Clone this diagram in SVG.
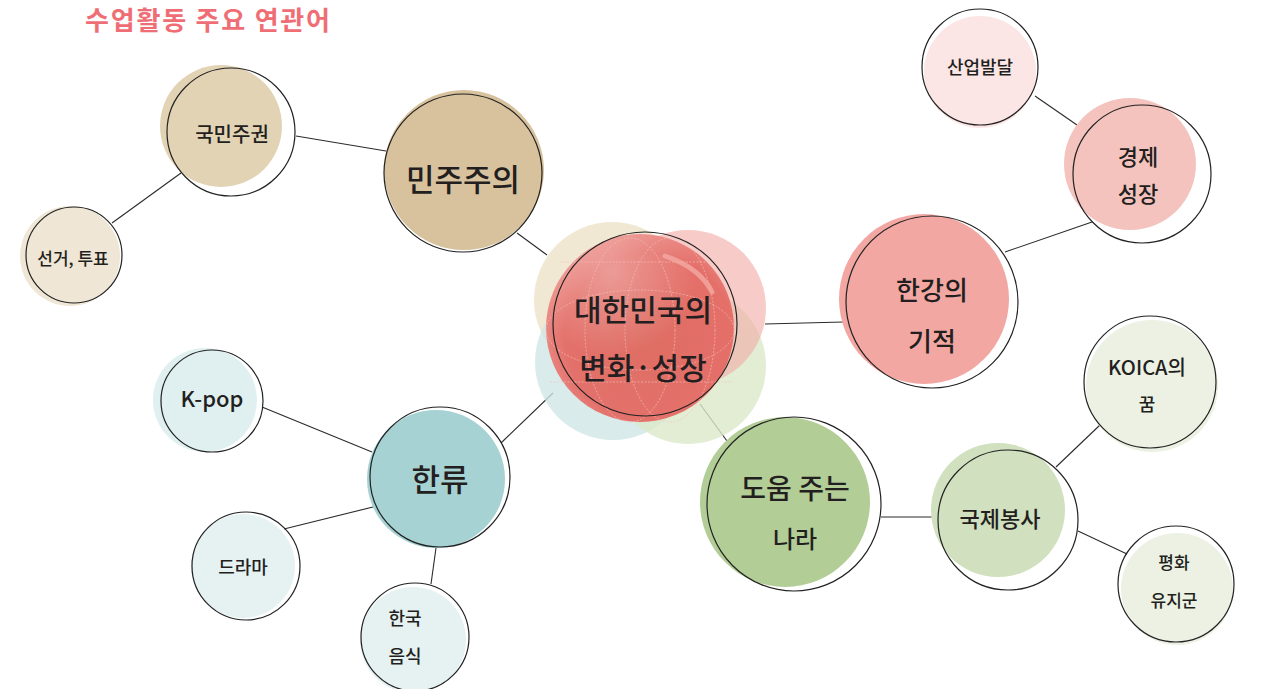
<svg xmlns="http://www.w3.org/2000/svg" width="1271" height="689" viewBox="0 0 1271 689">
<defs>
<style>
.ln{stroke:#2b2b2b;stroke-width:1.1;fill:none}
.ol{fill:none;stroke:#222;stroke-width:1.2}
.wh{fill:#fff;stroke:none}
.t{font-family:"Noto Sans CJK KR","Noto Sans",sans-serif;fill:#231f20;text-anchor:middle;dominant-baseline:central;font-weight:500}
.title{font-family:"Noto Sans CJK KR","Noto Sans",sans-serif;fill:#ef6e76;font-weight:700;font-size:26px}
.gl{fill:none;stroke:#f6c2bd;stroke-width:0.8;stroke-dasharray:2 1.5;opacity:0.8}
</style>
<radialGradient id="rg" cx="0.55" cy="0.55" r="0.6">
<stop offset="0" stop-color="#de6a60"/>
<stop offset="0.75" stop-color="#e46c66"/>
<stop offset="1" stop-color="#ec8c87"/>
</radialGradient>
<radialGradient id="hl" cx="0.35" cy="0.2" r="0.45">
<stop offset="0" stop-color="#ffffff" stop-opacity="0.3"/>
<stop offset="1" stop-color="#ffffff" stop-opacity="0"/>
</radialGradient>
</defs>
<rect width="1271" height="689" fill="#fff"/>
<text class="title" x="85" y="30" textLength="245" lengthAdjust="spacing">수업활동 주요 연관어</text>

<g id="connectors">
<line class="ln" x1="296" y1="136" x2="386" y2="151"/>
<line class="ln" x1="181" y1="173" x2="112" y2="223"/>
<line class="ln" x1="517" y1="233" x2="547" y2="255"/>
<line class="ln" x1="765" y1="324" x2="843" y2="322"/>
<line class="ln" x1="1092" y1="222" x2="1005" y2="252"/>
<line class="ln" x1="1035" y1="96" x2="1077" y2="125"/>
<line class="ln" x1="700" y1="404" x2="727" y2="441"/>
<line class="ln" x1="881" y1="517" x2="939" y2="517"/>
<line class="ln" x1="1056" y1="467" x2="1100" y2="425"/>
<line class="ln" x1="1078" y1="531" x2="1127" y2="554"/>
<line class="ln" x1="553" y1="393" x2="501" y2="443"/>
<line class="ln" x1="262" y1="407" x2="372" y2="452"/>
<line class="ln" x1="284" y1="529" x2="377" y2="506"/>
<line class="ln" x1="436" y1="548" x2="431" y2="584"/>
</g>

<g id="node-gukmin">
<circle class="wh" cx="231" cy="132" r="64"/>
<circle cx="221" cy="126" r="61" fill="#e3d3b5"/>
<circle class="ol" cx="231" cy="132" r="64"/>
<text class="t" x="232" y="133" font-size="20">국민주권</text>
</g>

<g id="node-seongeo">
<circle cx="70" cy="256" r="50" fill="#efe6d6"/>
<circle class="ol" cx="74" cy="255" r="48"/>
<text class="t" x="73" y="257" font-size="17">선거, 투표</text>
</g>

<g id="node-minju">
<circle class="wh" cx="463" cy="173" r="79"/>
<circle cx="464" cy="170" r="80" fill="#d8c29e"/>
<circle class="ol" cx="463" cy="173" r="79"/>
<text class="t" x="463" y="177" font-size="31">민주주의</text>
</g>

<g id="node-center">
<circle cx="612" cy="300" r="78" fill="#efe4cc" opacity="0.85"/>
<circle cx="613" cy="362" r="78" fill="#cfe6e6" opacity="0.8"/>
<circle cx="688" cy="366" r="78" fill="#dbe8c9" opacity="0.8"/>
<circle cx="688" cy="308" r="78" fill="#f1aaa4" opacity="0.6"/>
<circle cx="640" cy="328" r="94" fill="url(#rg)" opacity="0.96"/>
<circle cx="640" cy="328" r="94" fill="url(#hl)"/>
<line class="gl" x1="560" y1="262" x2="725" y2="262"/>
<line class="gl" x1="550" y1="382" x2="733" y2="382"/>
<ellipse class="gl" cx="640" cy="330" rx="94" ry="40"/>
<ellipse class="gl" cx="630" cy="330" rx="45" ry="92"/>
<ellipse class="gl" cx="670" cy="330" rx="45" ry="92"/>
<path d="M665 256 Q700 268 712 292" fill="none" stroke="#f4a9a3" stroke-width="5" stroke-linecap="round" opacity="0.8"/>
<circle class="ol" cx="645" cy="324" r="92"/>
<text class="t" x="643" y="308" font-size="30">대한민국의</text>
<text class="t" x="643" y="366" font-size="30">변화·성장</text>
</g>

<g id="node-sanup">
<circle class="wh" cx="980" cy="67" r="58"/>
<circle cx="980" cy="72" r="56" fill="#fce6e5"/>
<circle class="ol" cx="980" cy="67" r="58"/>
<text class="t" x="980" y="66" font-size="18">산업발달</text>
</g>

<g id="node-gyeongje">
<circle class="wh" cx="1142" cy="174" r="69"/>
<circle cx="1130" cy="164" r="66" fill="#f4c3bd"/>
<circle class="ol" cx="1142" cy="174" r="69"/>
<text class="t" x="1138" y="155" font-size="22">경제</text>
<text class="t" x="1138" y="192" font-size="22">성장</text>
</g>

<g id="node-hangang">
<circle class="wh" cx="932" cy="302" r="86"/>
<circle cx="924" cy="299" r="85" fill="#f2a7a2"/>
<circle class="ol" cx="932" cy="302" r="86"/>
<text class="t" x="932" y="288" font-size="26">한강의</text>
<text class="t" x="932" y="339" font-size="26">기적</text>
</g>

<g id="node-koica">
<circle cx="1152" cy="386" r="66" fill="#ecf1e3"/>
<circle class="ol" cx="1150" cy="382" r="66"/>
<text class="t" x="1147" y="366" font-size="20">KOICA의</text>
<text class="t" x="1147" y="403" font-size="18">꿈</text>
</g>

<g id="node-gukje">
<circle class="wh" cx="1008" cy="520" r="70"/>
<circle cx="998" cy="510" r="67" fill="#d1e0bf"/>
<circle class="ol" cx="1008" cy="520" r="70"/>
<text class="t" x="1000" y="517" font-size="22">국제봉사</text>
</g>

<g id="node-pyeonghwa">
<circle cx="1177" cy="589" r="56" fill="#ecf1e3"/>
<circle class="ol" cx="1176" cy="584" r="58"/>
<text class="t" x="1174" y="561" font-size="17">평화</text>
<text class="t" x="1174" y="599" font-size="17">유지군</text>
</g>

<g id="node-doum">
<circle class="wh" cx="794" cy="504" r="87"/>
<circle cx="785" cy="502" r="85" fill="#b2cd96"/>
<circle class="ol" cx="794" cy="504" r="87"/>
<text class="t" x="795" y="487" font-size="28">도움 주는</text>
<text class="t" x="795" y="537" font-size="24">나라</text>
</g>

<g id="node-hallyu">
<circle class="wh" cx="440" cy="477" r="70"/>
<circle cx="436" cy="479" r="69" fill="#a6d2d3"/>
<circle class="ol" cx="440" cy="477" r="70"/>
<text class="t" x="440" y="477" font-size="31">한류</text>
</g>

<g id="node-kpop">
<circle cx="205" cy="400" r="52" fill="#e0f0f0"/>
<circle class="ol" cx="212" cy="401" r="51"/>
<text class="t" x="212" y="397" font-size="22">K-pop</text>
</g>

<g id="node-drama">
<circle cx="243" cy="566" r="52" fill="#e6f2f2"/>
<circle class="ol" cx="246" cy="566" r="54"/>
<text class="t" x="243" y="566" font-size="18">드라마</text>
</g>

<g id="node-food">
<circle cx="413" cy="640" r="53" fill="#e6f2f2"/>
<circle class="ol" cx="415" cy="637" r="54"/>
<text class="t" x="405" y="617" font-size="18">한국</text>
<text class="t" x="405" y="655" font-size="18">음식</text>
</g>
</svg>
